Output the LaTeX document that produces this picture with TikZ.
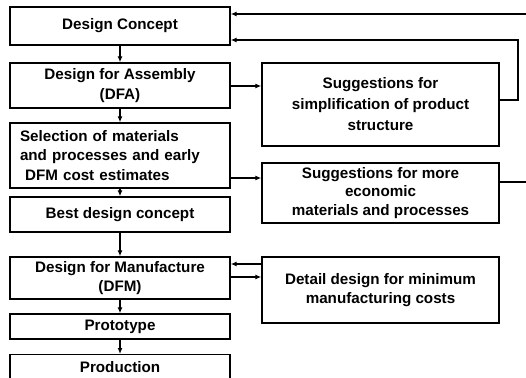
\documentclass[tikz,border=0pt]{standalone}
\usepackage{fontspec}
\setmainfont{Liberation Sans}
\usepackage{tikz}
\tikzset{>=latex}
\usetikzlibrary{arrows.meta,calc}
\tikzset{
	stage/.style={draw=black,line width=1.4pt,fill=white,align=center,inner sep=2pt,font=\bfseries\fontsize{15.2}{19.5}\selectfont},
	flow/.style={-{Latex[length=6pt,width=5pt]},line width=1.2pt}
}
\begin{document}
\begin{tikzpicture}[line cap=butt,line join=miter,x=1pt,y=-1pt]
		\useasboundingbox (0,0) rectangle (526,377);
		% main column
		\node[stage,minimum width=220pt,minimum height=38pt] (concept) at (120,26) {Design Concept};
		\node[stage,minimum width=220pt,minimum height=45pt] (dfa) at (120,85.5) {Design for Assembly\\(DFA)};
		\node[stage,minimum width=220pt,minimum height=65pt,align=left,text width=200pt] (select) at (120,155.5) {Selection of materials\\and processes and early\\\ DFM cost estimates};
		\node[stage,minimum width=220pt,minimum height=35pt] (best) at (120,214.5) {Best design concept};
		\node[stage,minimum width=220pt,minimum height=42pt] (dfm) at (120,278) {Design for Manufacture\\(DFM)};
		\node[stage,minimum width=220pt,minimum height=25pt] (proto) at (120,326.5) {Prototype};
		\node[stage,minimum width=220pt,minimum height=34pt,anchor=north] (prod) at (120,354) {};
		\node[font=\bfseries\fontsize{15.2}{19.5}\selectfont] (prodtext) at (120,367) {Production};
		% side boxes
		\node[stage,minimum width=237pt,minimum height=83pt,font=\bfseries\fontsize{15.2}{21}\selectfont] (simp) at (380.5,104.5) {Suggestions for\\simplification of product\\structure};
		\node[stage,minimum width=237pt,minimum height=60pt,font=\bfseries\fontsize{15.2}{18.5}\selectfont] (econ) at (380.5,193) {Suggestions for more\\economic\\materials and processes};
		\node[stage,minimum width=237pt,minimum height=66pt] (detail) at (380.5,290) {Detail design for minimum\\manufacturing costs};
		% downward flow
		\foreach \a/\b in {concept/dfa,dfa/select,select/best,best/dfm,dfm/proto,proto/prod}
		\draw[flow] (\a.south) -- (\b.north);
		% to the side boxes
		\draw[flow] (dfa.east |- 0,86) -- (simp.west |- 0,86);
		\draw[flow] (select.east |- 0,178) -- (econ.west |- 0,178);
		\draw[flow] (detail.west |- 0,264) -- (dfm.east |- 0,264);
		\draw[flow] (dfm.east |- 0,277) -- (detail.west |- 0,277);
		% feedback
		\coordinate (fbsimp) at (518,40);
		\coordinate (fbecon) at (528,14);
		\draw[flow] (simp.east |- 0,100) -| (fbsimp) -- (concept.east |- fbsimp);
		\draw[flow] (econ.east |- 0,182) -| (fbecon) -- (concept.east |- fbecon);
		\end{tikzpicture}
\end{document}
